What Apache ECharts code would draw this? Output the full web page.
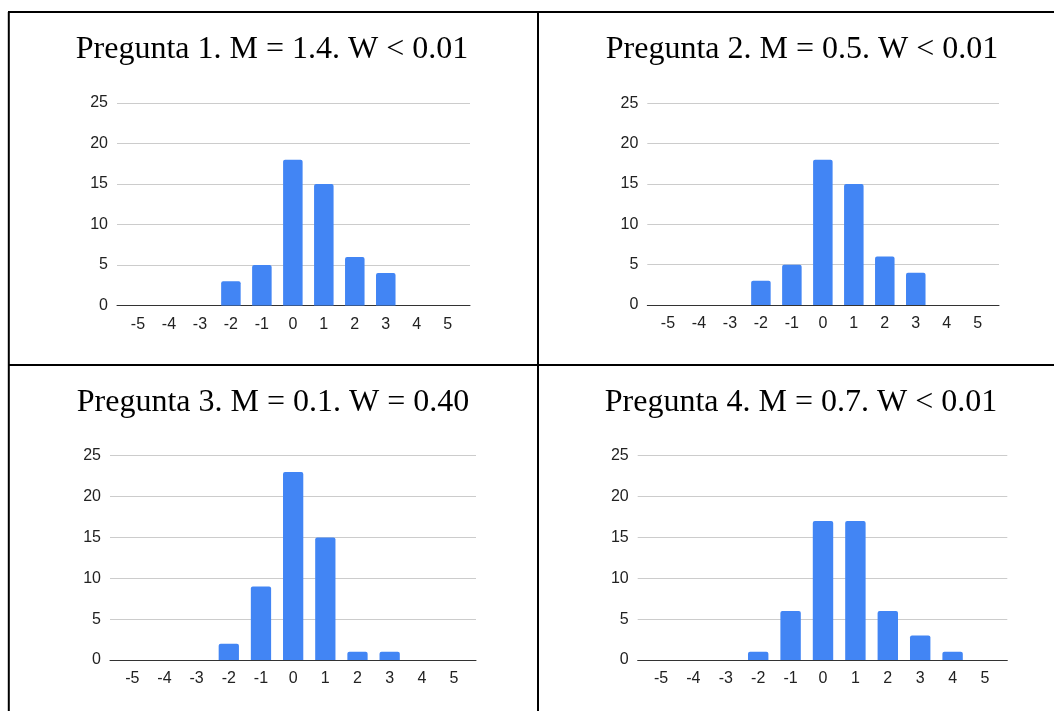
<!DOCTYPE html>
<html>
<head>
<meta charset="utf-8">
<script src="https://cdn.jsdelivr.net/npm/echarts@6/dist/echarts.min.js"></script>
<style>
html,body{margin:0;padding:0;background:#fff;}
#c{width:1054px;height:711px;}
</style>
</head>
<body>
<div id="c"></div>
<script>
// ---- data ----
const categories = ['-5','-4','-3','-2','-1','0','1','2','3','4','5'];
const titles = [
  'Pregunta 1. M = 1.4. W < 0.01',
  'Pregunta 2. M = 0.5. W < 0.01',
  'Pregunta 3. M = 0.1. W = 0.40',
  'Pregunta 4. M = 0.7. W < 0.01'
];
const pregunta1 = [0,0,0,3,5,18,15,6,4,0,0];
const pregunta2 = [0,0,0,3,5,18,15,6,4,0,0];
const pregunta3 = [0,0,0,2,9,23,15,1,1,0,0];
const pregunta4 = [0,0,0,1,6,17,17,6,3,1,0];
const yTicks = [0,5,10,15,20,25];

const seriesData = [pregunta1, pregunta2, pregunta3, pregunta4];

// ---- layout (pixels) ----
const layouts = [
  {bgL:117, bgR:470, top:103, y0:305.5, bandL:122.5, bandR:463.2, tx:272, ty:50},
  {bgL:647.3, bgR:999, top:103.3, y0:305, bandL:652.5, bandR:993.2, tx:802, ty:50},
  {bgL:110, bgR:476, top:455.7, y0:660, bandL:116.2, bandR:470.1, tx:273, ty:403},
  {bgL:637.7, bgR:1007.3, top:455.7, y0:660, bandL:644.8, bandR:1001.2, tx:801, ty:403}
];

const W = 1054, H = 711;
const grid = [], xAxis = [], yAxis = [], series = [], graphic = [];
const yMax = yTicks[yTicks.length-1];
const yInt = yTicks[1]-yTicks[0];
const labelFont = {fontFamily:'Liberation Sans, Arial, sans-serif', fontSize:16, color:'#222'};

layouts.forEach((p, i) => {
  const gBg = grid.length;
  grid.push({left:p.bgL, width:p.bgR-p.bgL, top:p.top, height:p.y0-p.top, containLabel:false});
  const gBar = grid.length;
  grid.push({left:p.bandL, width:p.bandR-p.bandL, top:p.top, height:p.y0-p.top, containLabel:false});

  xAxis.push({gridIndex:gBg, type:'value', min:0, max:1, show:true,
    axisLine:{show:true, lineStyle:{color:'#333', width:1}},
    axisTick:{show:false}, axisLabel:{show:false}, splitLine:{show:false}, z:1});
  yAxis.push({gridIndex:gBg, type:'value', min:0, max:yMax, interval:yInt,
    axisLine:{show:false}, axisTick:{show:false},
    axisLabel:Object.assign({margin:9}, labelFont),
    splitLine:{show:true, lineStyle:{color:'#cccccc', width:1}}});

  xAxis.push({gridIndex:gBar, type:'category', data:categories,
    axisLine:{show:false}, axisTick:{show:false},
    axisLabel:Object.assign({margin:11, interval:0}, labelFont),
    splitLine:{show:false}});
  yAxis.push({gridIndex:gBar, type:'value', min:0, max:yMax, interval:yInt, show:false,
    splitLine:{show:false}});

  series.push({type:'bar', xAxisIndex:2*i+1, yAxisIndex:2*i+1,
    data:seriesData[i], barCategoryGap:'37%',
    itemStyle:{color:'#4285F4', borderRadius:[2,2,0,0]}, z:3, silent:true});

  graphic.push({type:'text', x:p.tx, y:p.ty,
    style:{text:titles[i], fill:'#000', font:'32px "Liberation Serif", "Times New Roman", serif',
      textAlign:'center', textVerticalAlign:'middle'}});
});

const lw = 2;
[[8,12,W,12],[8.8,12,8.8,H],[538,12,538,H],[8,365,W,365]].forEach(s => {
  graphic.push({type:'line', shape:{x1:s[0],y1:s[1],x2:s[2],y2:s[3]},
    style:{stroke:'#000', lineWidth:lw}, z:10});
});

const chart = echarts.init(document.getElementById('c'), null, {renderer:'canvas'});
chart.setOption({
  animation:false,
  backgroundColor:'#fff',
  grid, xAxis, yAxis, series, graphic
});
</script>
</body>
</html>
